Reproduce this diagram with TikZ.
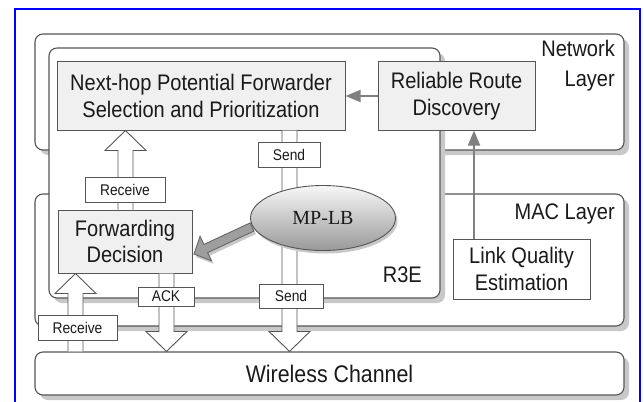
\documentclass[tikz,border=0pt]{standalone}
\usepackage{fontspec}
\setmainfont{Liberation Sans}[FakeStretch=0.89]
\newfontfamily\mpserif{Liberation Serif}
\usetikzlibrary{shapes.geometric,shadows,arrows.meta,calc}
\definecolor{txt}{HTML}{1A1A1A}
\definecolor{edge}{HTML}{555555}
\definecolor{boxfill}{HTML}{F0F0F0}
\definecolor{shad}{HTML}{C8C8C8}
\newcommand\fBig{\fontsize{22.5}{26.5}\selectfont}
\newcommand\fSmall{\fontsize{15.5}{18}\selectfont}
\newcommand\blkv[3]{%
  \draw[blk] ($(#1)+(-7.5,0)$) -- ($(#2)+(-7.5,{#3*20})$) -- ($(#2)+(-20.5,{#3*20})$) -- (#2) -- ($(#2)+(20.5,{#3*20})$) -- ($(#2)+(7.5,{#3*20})$) -- ($(#1)+(7.5,0)$);}
\begin{document}
\begin{tikzpicture}[x=1pt,y=-1pt,
  font=\fBig, text=txt,
  layer/.style={draw=edge, line width=1.1pt, rounded corners=8pt, fill=white, inner sep=0pt,
    drop shadow={shadow xshift=5pt,shadow yshift=-5pt,opacity=1,fill=shad}},
  inbox/.style={draw=edge, line width=1pt, fill=boxfill, inner sep=0pt, align=center},
  lbl/.style={draw=edge, line width=0.9pt, fill=white, inner sep=0pt, font=\fSmall},
  blk/.style={draw=edge, line width=0.9pt, fill=white, line join=miter},
  garr/.style={draw=black!50, line width=1.8pt, -{Triangle[length=15pt,width=12pt]}},
  txtl/.style={inner sep=0pt},
]
\useasboundingbox (0,0) rectangle (644,401);
\fill[white] (0,0) rectangle (644,401);
\draw[blue, line width=2pt] (15,402) -- (15,9) -- (640,9) -- (640,402);

% layers
\node[layer, minimum width=589pt, minimum height=116pt] (net) at (329.5,92) {};
\node[layer, minimum width=589pt, minimum height=132pt] (mac) at (329.5,260) {};
\node[layer, minimum width=589pt, minimum height=43pt, font=\fontsize{24}{28}\selectfont] (wc) at (329.5,373.5) {Wireless Channel};
\node[layer, minimum width=391pt, minimum height=250pt] (r3e) at (244.5,173) {};

\node[txtl, anchor=base east] (netA) at (615,57) {Network};
\node[txtl, anchor=base east] (netB) at (615,87) {Layer};
\node[txtl, anchor=base east] (macl) at (615,219) {MAC Layer};
\node[txtl, anchor=base east] (r3el) at (422,282) {R3E};

% inner boxes
\node[inbox, minimum width=288pt, minimum height=68pt] (nh) at (201,96) {Next-hop Potential Forwarder\\Selection and Prioritization};
\node[inbox, minimum width=157pt, minimum height=68pt] (rrd) at (456.5,96) {Reliable Route\\Discovery};
\node[inbox, minimum width=134pt, minimum height=63pt] (fwd) at (125,241.5) {Forwarding\\Decision};
\node[inbox, fill=white, minimum width=137pt, minimum height=60pt] (lqe) at (521.5,269) {Link Quality\\Estimation};

% gray connectors
\coordinate (lqx) at (474,0);
\draw[garr] (rrd.west) -- (nh.east);
\draw[garr] (lqe.north -| lqx) -- (rrd.south -| lqx);

% block arrows
\coordinate (ax1) at (125.5,0);
\coordinate (ax2) at (75.5,0);
\coordinate (ax3) at (166.5,0);
\coordinate (ax4) at (289.5,0);
\blkv{fwd.north -| ax1}{nh.south -| ax1}{1}
\blkv{wc.north -| ax2}{fwd.south -| ax2}{1}
\blkv{fwd.south -| ax3}{wc.north -| ax3}{-1}
\blkv{nh.south -| ax4}{wc.north -| ax4}{-1}

% labels on arrows
\node[lbl, minimum width=80pt, minimum height=25pt] (rcv1) at (125,189.5) {Receive};
\node[lbl, minimum width=62pt, minimum height=25pt] (snd1) at (289,154.5) {Send};
\node[lbl, minimum width=79pt, minimum height=25pt] (rcv2) at (77.5,327.5) {Receive};
\node[lbl, minimum width=56pt, minimum height=19pt] (ack) at (166,296.5) {ACK};
\node[lbl, minimum width=64pt, minimum height=24pt] (snd2) at (291,296) {Send};

% MP-LB arrow
\coordinate (mpt) at (252,227);
\begin{scope}[shift={(254,230)}, rotate=205]
  \fill[shad] (0,-4.5) -- (51,-4.5) -- (51,-13.5) -- (64,0) -- (51,13.5) -- (51,4.5) -- (0,4.5) -- cycle;
\end{scope}
\begin{scope}[shift={(mpt)}, rotate=205]
  \draw[fill=black!38, draw=black!60, line width=0.9pt, line join=miter] (0,-4.5) -- (51,-4.5) -- (51,-13.5) -- (64,0) -- (51,13.5) -- (51,4.5) -- (0,4.5) -- cycle;
\end{scope}

\node[ellipse, draw=edge, line width=0.9pt, top color=black!3, bottom color=black!40,
  minimum width=145pt, minimum height=65pt, inner sep=0pt,
  font=\mpserif\fontsize{20}{24}\selectfont,
  drop shadow={shadow xshift=2pt,shadow yshift=-3pt,opacity=1,fill=shad}] (mplb) at (323,218) {MP-LB};
\end{tikzpicture}
\end{document}
